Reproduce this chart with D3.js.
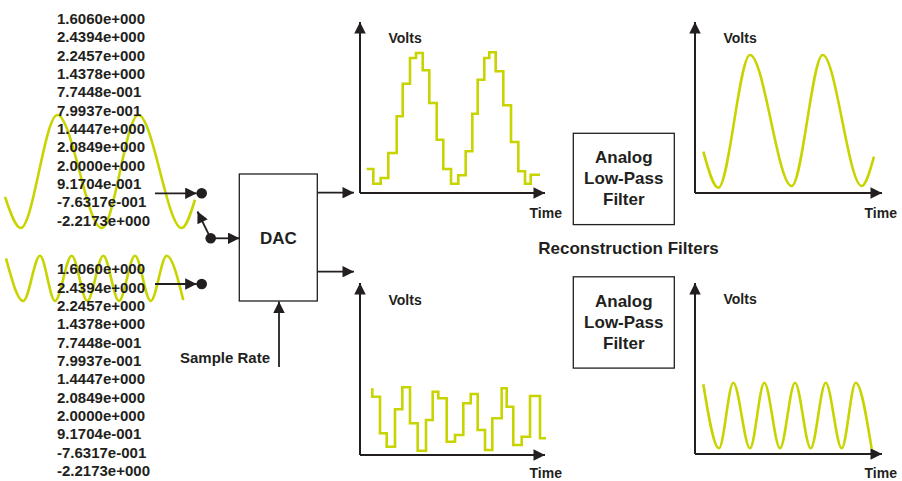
<!DOCTYPE html>
<html>
<head>
<meta charset="utf-8">
<script src="https://cdn.jsdelivr.net/npm/d3@7"></script>
<style>
  html, body { margin: 0; padding: 0; background: #ffffff; }
  svg { display: block; }
</style>
</head>
<body>
<svg id="chart" width="902" height="481"></svg>
<script>
// ---------------- DATA ----------------
// sample values printed beside each input signal
const sampleLabels = ["1.6060e+000", "2.4394e+000", "2.2457e+000", "1.4378e+000",
  "7.7448e-001", "7.9937e-001", "1.4447e+000", "2.0849e+000", "2.0000e+000",
  "9.1704e-001", "-7.6317e-001", "-2.2173e+000"];

// input signal 1 (slow sine): time / normalised amplitude at key points
const input1Time = [5, 20.7, 57.3, 101.7, 138.3, 181.7, 195];
const input1Amp  = [-0.45, -1, 1, -1, 1, -1, -0.5];
// input signal 2 (fast sine)
const input2Time = [6, 23.3, 40, 55, 71.7, 87.3, 103.3, 119, 135, 150.7, 166.7, 183.3];
const input2Amp  = [0.88, -1, 1, -1, 1, -1, 1, -1, 1, -1, 1, -0.96];

// DAC output 1 (staircase): step start times and held levels
const dac1Time  = [6.7, 13.3, 20.7, 28.3, 36.7, 42.7, 50, 56, 62.7, 69.3, 76.7, 83.3, 91,
  98.3, 105.7, 112.3, 117.7, 124.3, 129.3, 135.7, 143.3, 151, 158.3, 165, 170.7, 180];
const dac1Volts = [24, 9.3, 15, 40, 76.7, 109.3, 135, 140, 122.7, 90, 53.3, 24, 9.3,
  17.7, 41.7, 79.3, 113.3, 135, 140.7, 121.7, 87.7, 51, 21.7, 9.3, 18.3];

// DAC output 2 (staircase)
const dac2Time  = [12.3, 12.3, 20, 26.7, 35, 42.3, 50, 57.7, 66, 72.7, 78.3, 86.7, 95,
  103.3, 110.7, 117.7, 125, 132.3, 141.7, 146.7, 153.3, 161.7, 170, 180, 186];
const dac2Volts = [66.7, 58.3, 21.7, 8.3, 45.7, 67.7, 31.7, 4.3, 35, 63.3, 56.7, 13.3, 20,
  51.7, 61, 25, 5, 36.7, 66.7, 48.3, 10, 18.3, 59, 16.7];

// filtered output 1 (smooth)
const out1Time  = [8.3, 23.3, 55, 96.7, 127.7, 166.7, 179];
const out1Volts = [41.3, 5.3, 138, 7, 138, 7, 36.3];
// filtered output 2 (smooth)
const out2Time  = [8.3, 24, 38.3, 55, 69.3, 85, 100, 115.7, 130.7, 146.7, 160.7, 176.7];
const out2Volts = [69.7, 5.7, 71.3, 5.7, 71.3, 5.7, 71.3, 5.7, 71.3, 5.7, 71.3, 5];

const axisYLabel = "Volts";
const axisXLabel = "Time";
const dacLabel = "DAC";
const filterLabel = ["Analog", "Low-Pass", "Filter"];
const groupLabel = "Reconstruction Filters";
const rateLabel = "Sample Rate";

// ---------------- STYLE ----------------
const INK = "#231f20";
const WAVE = "#c8d400";
const FONT = "'Liberation Sans', Arial, Helvetica, sans-serif";

const svg = d3.select("#chart");
const defs = svg.append("defs");
defs.append("marker")
  .attr("id", "arrow")
  .attr("viewBox", "0 0 12 12")
  .attr("refX", 12).attr("refY", 6)
  .attr("markerUnits", "userSpaceOnUse")
  .attr("markerWidth", 12).attr("markerHeight", 11.5)
  .attr("orient", "auto")
  .append("path").attr("d", "M0,0 L12,6 L0,12 Z").attr("fill", INK);

function txt(g, x, y, s, size, anchor) {
  return g.append("text")
    .attr("x", x).attr("y", y)
    .attr("font-family", FONT)
    .attr("font-size", size)
    .attr("font-weight", "bold")
    .attr("fill", INK)
    .attr("text-anchor", anchor || "start")
    .text(s);
}
function arrow(x1, y1, x2, y2, w) {
  svg.append("line")
    .attr("x1", x1).attr("y1", y1).attr("x2", x2).attr("y2", y2)
    .attr("stroke", INK).attr("stroke-width", w || 1.8)
    .attr("marker-end", "url(#arrow)");
}

// ---------------- INPUT SIGNALS ----------------
const inX = d3.scaleLinear().domain([0, 200]).range([0, 200]);
const in1Y = d3.scaleLinear().domain([-1, 1]).range([228, 115]);
const in2Y = d3.scaleLinear().domain([-1, 1]).range([301, 255.7]);

const smoothLine = (xs, ys) => d3.line().curve(d3.curveMonotoneX).x(d => xs(d[0])).y(d => ys(d[1]));
const zip = (a, b) => a.map((v, i) => [v, b[i]]);

svg.append("path").datum(zip(input1Time, input1Amp))
  .attr("d", smoothLine(inX, in1Y)).attr("fill", "none")
  .attr("stroke", WAVE).attr("stroke-width", 2.6);
svg.append("path").datum(zip(input2Time, input2Amp))
  .attr("d", smoothLine(inX, in2Y)).attr("fill", "none")
  .attr("stroke", WAVE).attr("stroke-width", 2.6);

// sample value lists
const list1 = svg.append("g");
sampleLabels.forEach((s, i) => txt(list1, 57, 24 + i * 18.33, s, 15));
const list2 = svg.append("g");
sampleLabels.forEach((s, i) => txt(list2, 57, 274.3 + i * 18.33, s, 15));

// ---------------- SWITCH + DAC ----------------
arrow(155, 193.3, 196.7, 193.3);
svg.append("circle").attr("cx", 201.7).attr("cy", 193.3).attr("r", 5.3).attr("fill", INK);
arrow(155, 284, 196.7, 284);
svg.append("circle").attr("cx", 201.7).attr("cy", 284).attr("r", 5.3).attr("fill", INK);
svg.append("circle").attr("cx", 210.7).attr("cy", 238.3).attr("r", 5.3).attr("fill", INK);
arrow(210.7, 238.3, 197.5, 211.5);
arrow(210.7, 238.3, 239.5, 238.3);

svg.append("rect").attr("x", 239.3).attr("y", 174).attr("width", 78).attr("height", 127)
  .attr("fill", "none").attr("stroke", INK).attr("stroke-width", 1.3);
txt(svg, 278.3, 243.7, dacLabel, 17, "middle");

arrow(317.3, 192.7, 354, 192.7);
arrow(317.3, 271.7, 354, 271.7);
arrow(279, 367, 279, 301.5);
txt(svg, 180, 363.3, rateLabel, 15);

// ---------------- PANELS ----------------
function panel(ox, oy, w, h) {
  const x = d3.scaleLinear().domain([0, 185]).range([ox, ox + 185]);
  const y = d3.scaleLinear().domain([0, 171]).range([oy, oy - 171]);
  arrow(x(0), y(0), ox + w, y(0), 2);
  arrow(x(0), y(0), x(0), oy - h, 2);
  txt(svg, ox + 28.5, oy - 150, axisYLabel, 14);
  txt(svg, ox + 169.5, Math.min(oy + 25, 477.5), axisXLabel, 14);
  return { x, y };
}

const pTL = panel(360, 193, 185, 171);
svg.append("path").datum(zip(dac1Time, dac1Volts.concat([dac1Volts[dac1Volts.length - 1]])))
  .attr("d", d3.line().curve(d3.curveStepAfter).x(d => pTL.x(d[0])).y(d => pTL.y(d[1])))
  .attr("fill", "none").attr("stroke", WAVE).attr("stroke-width", 2.6);

const pBL = panel(360, 455, 185, 172);
svg.append("path").datum(zip(dac2Time, dac2Volts.concat([dac2Volts[dac2Volts.length - 1]])))
  .attr("d", d3.line().curve(d3.curveStepAfter).x(d => pBL.x(d[0])).y(d => pBL.y(d[1])))
  .attr("fill", "none").attr("stroke", WAVE).attr("stroke-width", 2.6);

const pTR = panel(695, 193, 187, 171);
svg.append("path").datum(zip(out1Time, out1Volts))
  .attr("d", smoothLine(pTR.x, pTR.y))
  .attr("fill", "none").attr("stroke", WAVE).attr("stroke-width", 2.6);

const pBR = panel(695, 454, 187, 171);
svg.append("path").datum(zip(out2Time, out2Volts))
  .attr("d", smoothLine(pBR.x, pBR.y))
  .attr("fill", "none").attr("stroke", WAVE).attr("stroke-width", 2.6);

// ---------------- FILTERS ----------------
function filterBox(y0, baselines) {
  svg.append("rect").attr("x", 573.3).attr("y", y0).attr("width", 101).attr("height", 91.3)
    .attr("fill", "none").attr("stroke", INK).attr("stroke-width", 1.3);
  filterLabel.forEach((s, i) => txt(svg, 623.8, baselines[i], s, 17, "middle"));
}
filterBox(133.3, [162.7, 184, 205.2]);
filterBox(276.8, [306.8, 327.8, 349.4]);
txt(svg, 628.5, 254.3, groupLabel, 17, "middle");
</script>
</body>
</html>
